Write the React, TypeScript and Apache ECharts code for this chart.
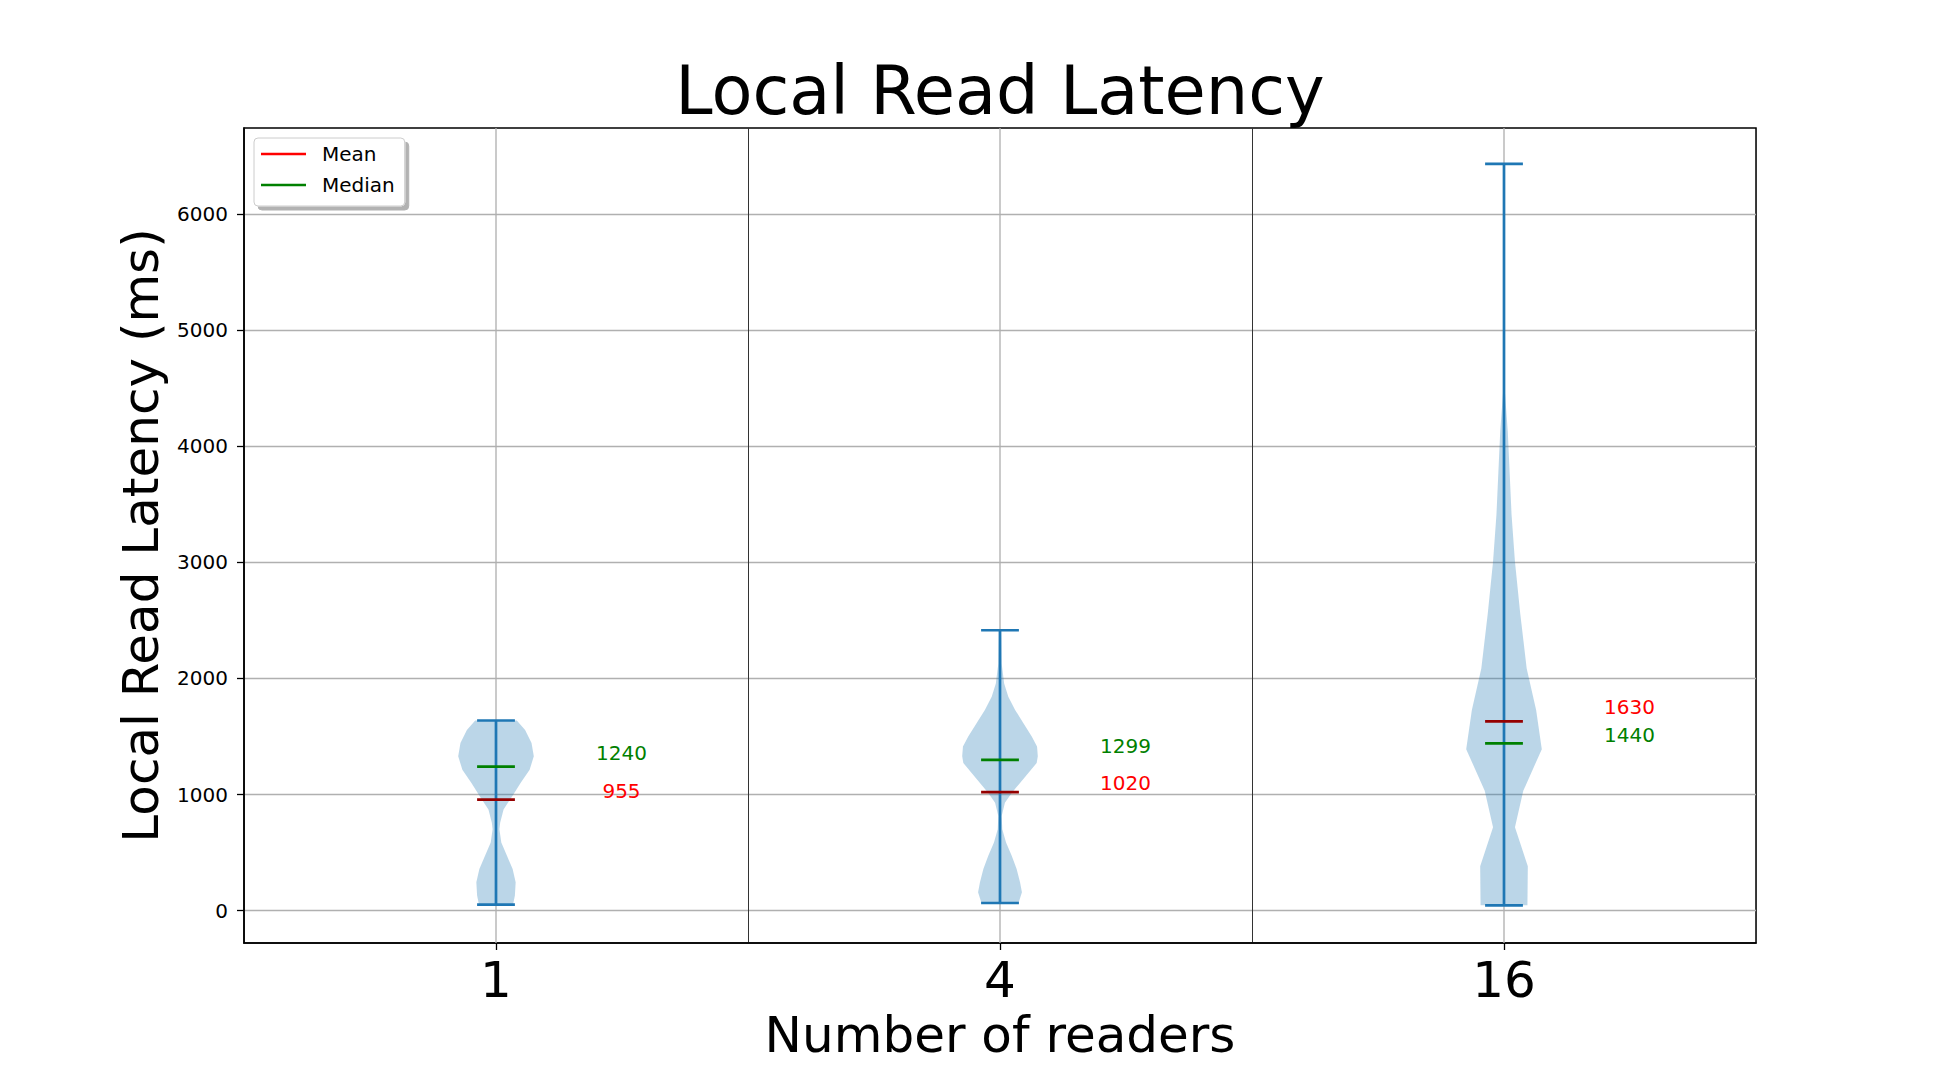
import React, { useEffect, useRef } from 'react';
import * as echarts from 'echarts';

const categories = ['1', '4', '16'];
const minValues = [50, 65, 45];
const maxValues = [1638, 2416, 6436];
const meanValues = [955, 1020, 1630];
const medianValues = [1240, 1299, 1440];
const yTickValues = [0, 1000, 2000, 3000, 4000, 5000, 6000];

// Violin outlines: sample latencies and relative KDE width (1 = widest)
const violin1Values = [50, 129, 243, 357, 471, 586, 700, 757, 871, 986, 1100, 1214, 1329, 1443, 1557, 1638];
const violin1Density = [0.45, 0.5, 0.52, 0.44, 0.29, 0.14, 0.09, 0.11, 0.2, 0.43, 0.65, 0.89, 1.0, 0.94, 0.77, 0.55];
const violin2Values = [65, 157, 243, 357, 471, 586, 700, 814, 929, 1014, 1100, 1186, 1271, 1329, 1414, 1500, 1614, 1729, 1843, 1957, 2128, 2416];
const violin2Density = [0.49, 0.58, 0.53, 0.44, 0.31, 0.16, 0.06, 0.045, 0.13, 0.31, 0.53, 0.75, 0.97, 1.0, 0.98, 0.84, 0.62, 0.4, 0.22, 0.11, 0.045, 0.03];
const violin3Values = [45, 381, 718, 1032, 1391, 1728, 2087, 2558, 3007, 3411, 4129, 4488, 5200, 6436];
const violin3Density = [0.62, 0.63, 0.29, 0.51, 1.0, 0.85, 0.6, 0.43, 0.29, 0.2, 0.1, 0.02, 0.005, 0.003];

const violinValues = [violin1Values, violin2Values, violin3Values];
const violinDensity = [violin1Density, violin2Density, violin3Density];

const FONT = 'DejaVu Sans';
const Y_MIN = -280;
const Y_MAX = 6745;
const VIOLIN_HALF = 0.075; // fraction of category band
const CAP_HALF = 0.0375;
const LABEL_OFFSET_X = 0.249;
const LINE_W = 2.7;

const App: React.FC = () => {
  const ref = useRef<HTMLDivElement>(null);

  useEffect(() => {
    if (!ref.current) return;
    const chart = echarts.init(ref.current, undefined, { renderer: 'svg' });

    const upperLabelValue = (i: number, v: number) => {
      const other = v === meanValues[i] ? medianValues[i] : meanValues[i];
      return v >= other ? v + 120 : v + 75;
    };

    const option: any = {
      animation: false,
      backgroundColor: '#ffffff',
      title: {
        text: 'Local Read Latency',
        left: 1000,
        top: 57,
        textAlign: 'center',
        padding: 0,
        textStyle: { fontSize: 67, fontWeight: 'normal', fontFamily: FONT, color: '#000' },
      },
      legend: {
        data: [
          { name: 'Mean', itemStyle: { color: '#ff0000' } },
          { name: 'Median', itemStyle: { color: '#008000' } },
        ],
        orient: 'vertical',
        left: 254,
        top: 138,
        padding: [6, 10, 11, 7],
        itemGap: 11,
        itemWidth: 45,
        itemHeight: 2.5,
        icon: 'rect',
        backgroundColor: '#ffffff',
        borderColor: '#cccccc',
        borderWidth: 1,
        borderRadius: 4,
        shadowColor: 'rgba(0,0,0,0.3)',
        shadowOffsetX: 4,
        shadowOffsetY: 4,
        shadowBlur: 0,
        selectedMode: false,
        textStyle: { fontSize: 20, fontFamily: FONT, color: '#000', padding: [0, 0, 0, 11] },
      },
      grid: {
        left: 244,
        top: 128,
        width: 1512,
        height: 820,
        show: true,
        borderColor: '#000',
        borderWidth: 1.5,
        backgroundColor: 'transparent',
        containLabel: false,
      },
      xAxis: {
        type: 'category',
        data: categories,
        boundaryGap: true,
        name: 'Number of readers',
        nameLocation: 'middle',
        nameGap: 67,
        nameTextStyle: { fontSize: 50, fontFamily: FONT, color: '#000' },
        axisLine: { show: true, onZero: false, lineStyle: { color: '#000', width: 1.5 } },
        axisTick: { show: true, alignWithLabel: true, length: 7, lineStyle: { color: '#000', width: 1.3 } },
        axisLabel: { fontSize: 50, fontFamily: FONT, color: '#000', margin: 12, interval: 0 },
        splitLine: { show: true, interval: 0, lineStyle: { color: '#333333', width: 1 } },
      },
      yAxis: {
        type: 'value',
        min: Y_MIN,
        max: Y_MAX,
        splitNumber: 7,
        name: 'Local Read Latency (ms)',
        nameLocation: 'middle',
        nameRotate: 90,
        nameGap: 77,
        nameTextStyle: { fontSize: 50, fontFamily: FONT, color: '#000' },
        axisLine: { show: true, onZero: false, lineStyle: { color: '#000', width: 1.5 } },
        axisTick: { show: true, length: 7, customValues: yTickValues, lineStyle: { color: '#000', width: 1.3 } },
        axisLabel: {
          fontSize: 20,
          fontFamily: FONT,
          color: '#000',
          margin: 16,
          customValues: yTickValues,
          formatter: (v: number) => String(v),
        },
        splitLine: { show: true, lineStyle: { color: '#b0b0b0', width: 1.33 } },
      },
      series: [
        {
          name: 'grid',
          type: 'custom',
          z: 1,
          silent: true,
          data: categories.map((_, i) => [i, 0]),
          renderItem: (params: any, api: any) => {
            const i = params.dataIndex;
            const x = api.coord([i, 0])[0];
            const cs = params.coordSys;
            return {
              type: 'line',
              shape: { x1: x, y1: cs.y, x2: x, y2: cs.y + cs.height },
              style: { stroke: '#b0b0b0', lineWidth: 1.33 },
            };
          },
        },
        {
          name: 'Latency',
          type: 'custom',
          z: 2,
          silent: true,
          data: categories.map((_, i) => [i, maxValues[i]]),
          renderItem: (params: any, api: any) => {
            const i = params.dataIndex;
            const band = api.size([1, 0])[0];
            const cx = api.coord([i, 0])[0];
            const half = VIOLIN_HALF * band;
            const cap = CAP_HALF * band;
            const vals = violinValues[i];
            const dens = violinDensity[i];
            const right = vals.map((v, k) => [cx + dens[k] * half, api.coord([i, v])[1]]);
            const left = vals.map((v, k) => [cx - dens[k] * half, api.coord([i, v])[1]]).reverse();
            const yMin = api.coord([i, minValues[i]])[1];
            const yMax = api.coord([i, maxValues[i]])[1];
            const stroke = { stroke: '#1f77b4', lineWidth: LINE_W };
            return {
              type: 'group',
              children: [
                { type: 'polygon', shape: { points: right.concat(left) }, style: { fill: 'rgba(31,119,180,0.3)' } },
                { type: 'line', shape: { x1: cx, y1: yMin, x2: cx, y2: yMax }, style: stroke },
                { type: 'line', shape: { x1: cx - cap, y1: yMin, x2: cx + cap, y2: yMin }, style: stroke },
                { type: 'line', shape: { x1: cx - cap, y1: yMax, x2: cx + cap, y2: yMax }, style: stroke },
              ],
            };
          },
        },
        {
          name: 'Median',
          type: 'custom',
          z: 3,
          silent: true,
          itemStyle: { color: '#008000' },
          data: categories.map((_, i) => [i, medianValues[i]]),
          renderItem: (params: any, api: any) => {
            const i = params.dataIndex;
            const band = api.size([1, 0])[0];
            const cx = api.coord([i, 0])[0];
            const cap = CAP_HALF * band;
            const y = api.coord([i, medianValues[i]])[1];
            const ly = api.coord([i, upperLabelValue(i, medianValues[i])])[1];
            return {
              type: 'group',
              children: [
                { type: 'line', shape: { x1: cx - cap, y1: y, x2: cx + cap, y2: y }, style: { stroke: '#008000', lineWidth: LINE_W } },
                {
                  type: 'text',
                  x: cx + LABEL_OFFSET_X * band,
                  y: ly,
                  style: {
                    text: String(medianValues[i]),
                    fill: '#008000',
                    fontSize: 20,
                    fontFamily: FONT,
                    align: 'center',
                    verticalAlign: 'middle',
                  },
                },
              ],
            };
          },
        },
        {
          name: 'Mean',
          type: 'custom',
          z: 4,
          silent: true,
          itemStyle: { color: '#ff0000' },
          data: categories.map((_, i) => [i, meanValues[i]]),
          renderItem: (params: any, api: any) => {
            const i = params.dataIndex;
            const band = api.size([1, 0])[0];
            const cx = api.coord([i, 0])[0];
            const cap = CAP_HALF * band;
            const y = api.coord([i, meanValues[i]])[1];
            const ly = api.coord([i, upperLabelValue(i, meanValues[i])])[1];
            return {
              type: 'group',
              children: [
                { type: 'line', shape: { x1: cx - cap, y1: y, x2: cx + cap, y2: y }, style: { stroke: '#950000', lineWidth: LINE_W } },
                {
                  type: 'text',
                  x: cx + LABEL_OFFSET_X * band,
                  y: ly,
                  style: {
                    text: String(meanValues[i]),
                    fill: '#ff0000',
                    fontSize: 20,
                    fontFamily: FONT,
                    align: 'center',
                    verticalAlign: 'middle',
                  },
                },
              ],
            };
          },
        },
      ],
    };

    chart.setOption(option);
    return () => {
      chart.dispose();
    };
  }, []);

  return (
    <div
      ref={ref}
      style={{ position: 'absolute', left: 0, top: 0, width: 1952, height: 1065, background: '#fff' }}
    />
  );
};

export default App;
